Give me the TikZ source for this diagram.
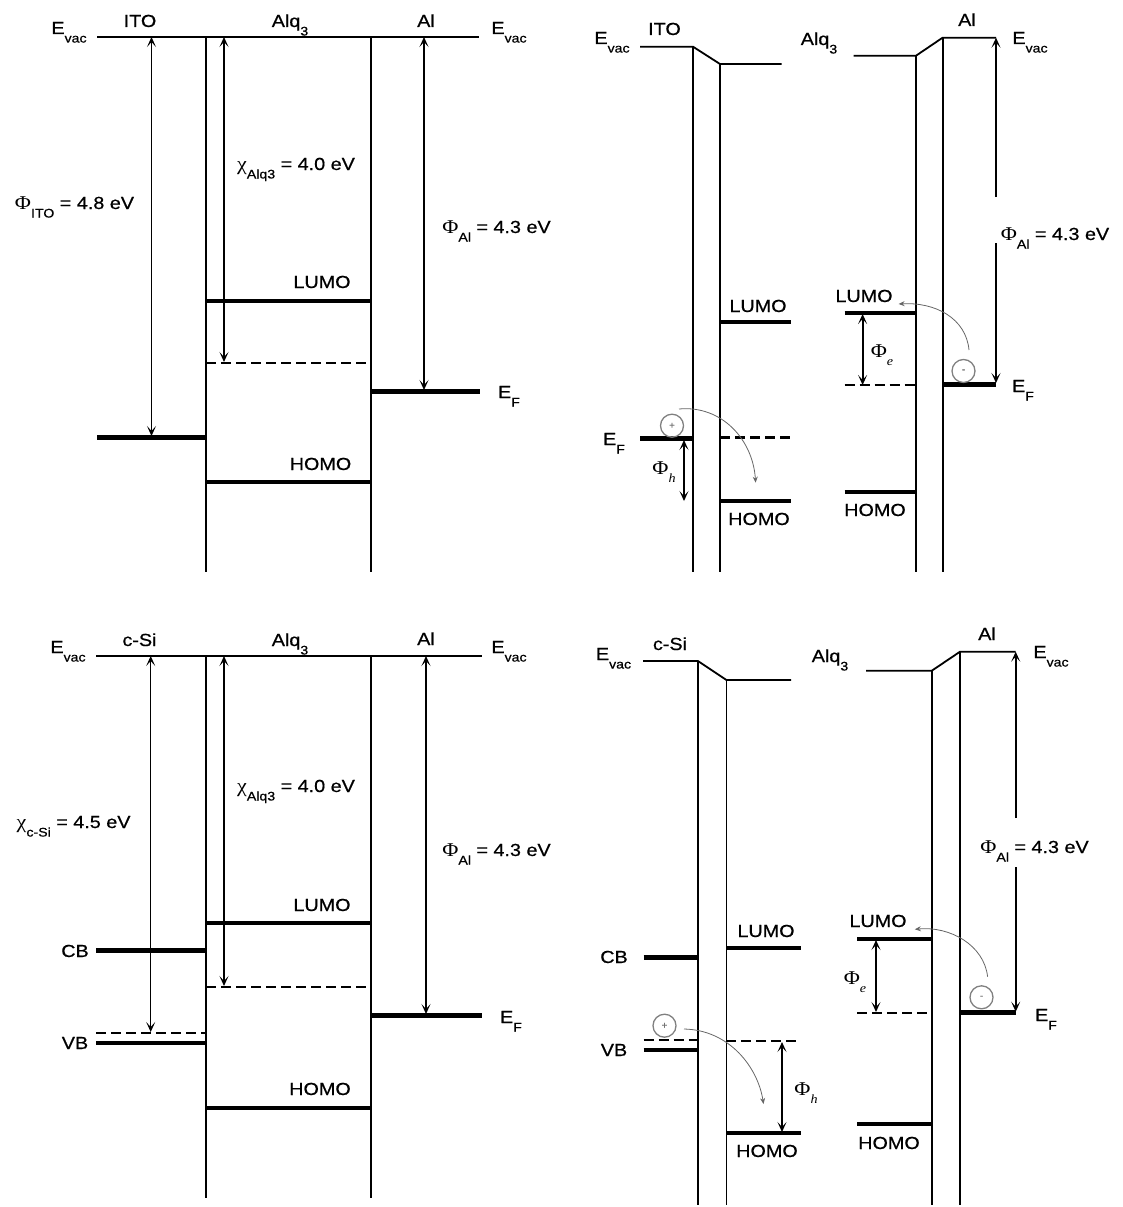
\documentclass[tikz,border=0pt]{standalone}
\usepackage{fontspec}
\setmainfont{Liberation Sans}[FakeBold=0.6]
\newfontfamily\grk{Liberation Serif}
\usetikzlibrary{arrows.meta}
\newcommand\sbs[1]{\raisebox{-8.5pt}{\fontsize{12.5}{12.5}\selectfont #1}}
\newcommand\PhiG{{\grk\fontsize{19.5}{19.5}\selectfont Φ}}
\newcommand\chiG{{\grk\fontsize{19.5}{19.5}\selectfont χ}}
\newcommand\Evac{E\sbs{vac}}
\newcommand\EF{E\sbs{F}}
\newcommand\AlqT{Alq\sbs{3}}
\tikzset{
  tp/.tip={Stealth[length=10pt,width=9pt,inset=5pt]},
  st/.tip={Stealth[length=6pt,width=5pt]},
}
\begin{document}
\begin{tikzpicture}[x=1pt,y=-1pt,
  lbl/.style={inner sep=0pt, anchor=base, xscale=1.13, font=\fontsize{17.5}{17.5}\selectfont},
  vac/.style={line width=1.8pt},
  thn/.style={line width=1.8pt},
  lev/.style={line width=3.8pt},
  ef/.style={line width=5pt},
  dsh/.style={line width=2.6pt, dash pattern=on 10pt off 5pt},
  arr/.style={line width=1.4pt, tp-tp},
  arrT/.style={line width=2.2pt},
  crv/.style={black!60, line width=0.8pt, -st},
  blob/.style={circle, draw=black!50, line width=1.3pt, minimum size=23pt, inner sep=0pt, font=\fontsize{10}{10}\selectfont, text=black!55},
]
\useasboundingbox (0,0) rectangle (1122,1207);

%% ================= Quadrant 1 =================
\draw[vac] (97,37) -- (479,37);
\draw[thn] (206,37) -- (206,572);
\draw[thn] (371,37) -- (371,572);
\draw[lev] (206,300.7) -- (371,300.7);
\draw[dsh] (206,363) -- (371,363);
\draw[lev] (206,482) -- (371,482);
\draw[ef] (97,437) -- (206,437);
\draw[ef] (371,391) -- (480,391);
\coordinate (q1a) at (151.5,37);  \coordinate (q1b) at (151.5,436);
\coordinate (q1c) at (224,37);    \coordinate (q1d) at (224,362);
\coordinate (q1e) at (424,37);    \coordinate (q1f) at (424,390);
\draw[arr] (q1b) -- (q1a);
\draw[arr] (q1d) -- (q1c);
\draw[arr] (q1f) -- (q1e);
\node[lbl] (t1a) at (140,27) {ITO};
\node[lbl] (t1b) at (290,27) {\AlqT};
\node[lbl] (t1c) at (426,27) {Al};
\node[lbl] (t1d) at (69,34) {\Evac};
\node[lbl] (t1e) at (509,34) {\Evac};
\node[lbl] (t1f) at (74.5,209) {\PhiG\sbs{ITO} = 4.8 eV};
\node[lbl] (t1g) at (296,170) {\chiG\sbs{Alq3} = 4.0 eV};
\node[lbl] (t1h) at (496.5,233) {\PhiG\sbs{Al} = 4.3 eV};
\node[lbl] (t1i) at (322,288) {LUMO};
\node[lbl] (t1j) at (320.5,470) {HOMO};
\node[lbl] (t1k) at (509,398) {\EF};

%% ================= Quadrant 2 =================
\draw[vac] (640,46.7) -- (693,46.7) -- (720,64) -- (781.5,64);
\draw[vac] (853.6,55.7) -- (916,55.7) -- (942.6,37.7) -- (996,37.7);
\draw[thn] (693,46.7) -- (693,572);
\draw[thn] (720,64) -- (720,572);
\draw[thn] (916,55.7) -- (916,572);
\draw[thn] (942.6,37.7) -- (942.6,572);
\draw[lev] (720,322) -- (790.5,322);
\draw[dsh] (720,437.7) -- (790.5,437.7);
\draw[lev] (720,500.7) -- (790.5,500.7);
\draw[ef] (640,438) -- (693,438);
\draw[lev] (844.6,313) -- (916,313);
\draw[dsh] (844.6,385) -- (916,385);
\draw[lev] (844.6,491.7) -- (916,491.7);
\draw[ef] (942.6,384) -- (996,384);
\coordinate (q2a) at (996,197);   \coordinate (q2b) at (996,37.7);
\coordinate (q2c) at (996,243);   \coordinate (q2d) at (996,383);
\draw[arrT,-tp] (q2a) -- (q2b);
\draw[arrT,-tp] (q2c) -- (q2d);
\coordinate (q2e) at (684,440);   \coordinate (q2f) at (684,501);
\draw[arrT,tp-tp] (q2e) -- (q2f);
\coordinate (q2g) at (862.6,314); \coordinate (q2h) at (862.6,385);
\draw[arrT,tp-tp] (q2g) -- (q2h);
\node[blob] (h2) at (672,425.7) {+};
\node[blob] (e2) at (963.5,371) {-};
\coordinate (q2i) at (679,409);  \coordinate (q2j) at (755.6,482.7);
\draw[crv] (q2i) .. controls (722,405) and (753,440) .. (q2j);
\coordinate (q2k) at (969,350);  \coordinate (q2l) at (898.6,304);
\draw[crv] (q2k) .. controls (966,318) and (935,302) .. (q2l);
\node[lbl] (t2a) at (612,44) {\Evac};
\node[lbl] (t2b) at (664.5,35) {ITO};
\node[lbl] (t2c) at (819,45) {\AlqT};
\node[lbl] (t2d) at (967,26) {Al};
\node[lbl] (t2e) at (1030,44) {\Evac};
\node[lbl] (t2f) at (1055,240) {\PhiG\sbs{Al} = 4.3 eV};
\node[lbl] (t2g) at (758,312) {LUMO};
\node[lbl] (t2h) at (759,525) {HOMO};
\node[lbl] (t2i) at (614,445) {\EF};
\node[lbl] (t2j) at (664,474) {\PhiG\sbs{\grk\itshape h}};
\node[lbl] (t2k) at (864,302) {LUMO};
\node[lbl] (t2l) at (882,357) {\PhiG\sbs{\grk\itshape e}};
\node[lbl] (t2m) at (875,516) {HOMO};
\node[lbl] (t2n) at (1023,392) {\EF};

%% ================= Quadrant 3 =================
\draw[vac] (96,656) -- (482,656);
\draw[thn] (206,656) -- (206,1198);
\draw[thn] (371,656) -- (371,1198);
\draw[lev] (206,923) -- (371,923);
\draw[dsh] (206,987) -- (371,987);
\draw[lev] (206,1107.7) -- (371,1107.7);
\draw[ef] (96,950.7) -- (206,950.7);
\draw[dsh] (96,1033) -- (206,1033);
\draw[lev] (96,1042.7) -- (206,1042.7);
\draw[ef] (371,1015) -- (482,1015);
\coordinate (q3a) at (150.7,656); \coordinate (q3b) at (150.7,1032);
\coordinate (q3c) at (224,656);   \coordinate (q3d) at (224,986);
\coordinate (q3e) at (426,656);   \coordinate (q3f) at (426,1014);
\draw[arr] (q3b) -- (q3a);
\draw[arr] (q3d) -- (q3c);
\draw[arr] (q3f) -- (q3e);
\node[lbl] (t3a) at (68,653) {\Evac};
\node[lbl] (t3b) at (139.5,646) {c-Si};
\node[lbl] (t3c) at (290,646) {\AlqT};
\node[lbl] (t3d) at (426,645) {Al};
\node[lbl] (t3e) at (509,653) {\Evac};
\node[lbl] (t3f) at (296,792) {\chiG\sbs{Alq3} = 4.0 eV};
\node[lbl] (t3g) at (73.6,828) {\chiG\sbs{c-Si} = 4.5 eV};
\node[lbl] (t3h) at (496.5,856) {\PhiG\sbs{Al} = 4.3 eV};
\node[lbl] (t3i) at (322,911) {LUMO};
\node[lbl] (t3j) at (75,957) {CB};
\node[lbl] (t3k) at (75,1049) {VB};
\node[lbl] (t3l) at (320,1095) {HOMO};
\node[lbl] (t3m) at (511,1023) {\EF};

%% ================= Quadrant 4 =================
\draw[vac] (643,661) -- (698,661) -- (726.4,680) -- (791,680);
\draw[vac] (866,670.7) -- (931.8,670.7) -- (960,651.7) -- (1015.7,651.7);
\draw[thn] (698,661) -- (698,1205);
\draw[thn] (726.4,680) -- (726.4,1205);
\draw[thn] (931.8,670.7) -- (931.8,1205);
\draw[thn] (960,651.7) -- (960,1205);
\draw[ef] (643.6,957.7) -- (698,957.7);
\draw[dsh] (643.6,1040) -- (698,1040);
\draw[lev] (643.6,1050) -- (698,1050);
\draw[lev] (726.4,948) -- (800.6,948);
\draw[dsh] (726.4,1041) -- (800.6,1041);
\draw[lev] (726.4,1133) -- (800.6,1133);
\draw[lev] (857,939.3) -- (931.8,939.3);
\draw[dsh] (857,1013) -- (931.8,1013);
\draw[lev] (857,1124) -- (931.8,1124);
\draw[ef] (960,1012.7) -- (1015.7,1012.7);
\coordinate (q4a) at (1015.7,818);  \coordinate (q4b) at (1015.7,651.7);
\coordinate (q4c) at (1015.7,867);  \coordinate (q4d) at (1015.7,1011.7);
\draw[arrT,-tp] (q4a) -- (q4b);
\draw[arrT,-tp] (q4c) -- (q4d);
\coordinate (q4e) at (782,1042);  \coordinate (q4f) at (782,1132);
\draw[arr] (q4e) -- (q4f);
\coordinate (q4g) at (876,940);   \coordinate (q4h) at (876,1012);
\draw[arrT,tp-tp] (q4g) -- (q4h);
\node[blob] (h4) at (664.5,1025.7) {+};
\node[blob] (e4) at (981.5,997.3) {-};
\coordinate (q4i) at (684,1029);  \coordinate (q4j) at (763.5,1104);
\draw[crv] (q4i) .. controls (730,1030) and (758,1068) .. (q4j);
\coordinate (q4k) at (987.6,976.7); \coordinate (q4l) at (914.8,929.3);
\draw[crv] (q4k) .. controls (984,945) and (950,926) .. (q4l);
\node[lbl] (t4a) at (613.5,660) {\Evac};
\node[lbl] (t4b) at (670,650) {c-Si};
\node[lbl] (t4c) at (830,662) {\AlqT};
\node[lbl] (t4d) at (987,640) {Al};
\node[lbl] (t4e) at (1051,658) {\Evac};
\node[lbl] (t4f) at (1034.5,853) {\PhiG\sbs{Al} = 4.3 eV};
\node[lbl] (t4g) at (614,963) {CB};
\node[lbl] (t4h) at (614,1056) {VB};
\node[lbl] (t4i) at (766,937) {LUMO};
\node[lbl] (t4j) at (767,1157) {HOMO};
\node[lbl] (t4k) at (806,1095) {\PhiG\sbs{\grk\itshape h}};
\node[lbl] (t4l) at (878,927) {LUMO};
\node[lbl] (t4m) at (855,984) {\PhiG\sbs{\grk\itshape e}};
\node[lbl] (t4n) at (889,1149) {HOMO};
\node[lbl] (t4o) at (1046,1021) {\EF};
\end{tikzpicture}
\end{document}
